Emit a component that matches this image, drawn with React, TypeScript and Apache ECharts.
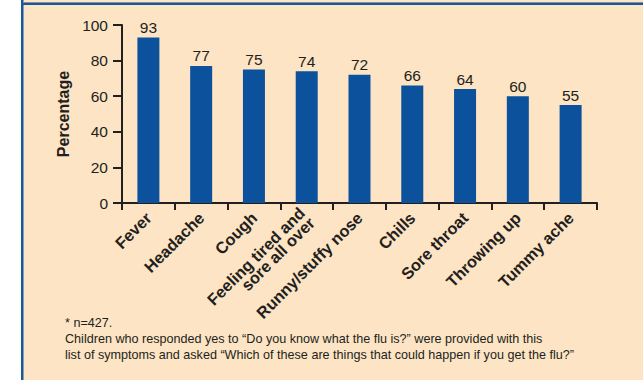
import React, { useEffect, useRef } from "react";
import * as echarts from "echarts";

const categories = [
  "Fever",
  "Headache",
  "Cough",
  "Feeling tired and\nsore all over",
  "Runny/stuffy nose",
  "Chills",
  "Sore throat",
  "Throwing up",
  "Tummy ache",
];
const percentages = [93, 77, 75, 74, 72, 66, 64, 60, 55];
const yTicks = { min: 0, max: 100, interval: 20 };
const yAxisTitle = "Percentage";
const footnotes = [
  "* n=427.",
  "Children who responded yes to \u201cDo you know what the flu is?\u201d were provided with this",
  "list of symptoms and asked \u201cWhich of these are things that could happen if you get the flu?\u201d",
];

const FONT = "'Liberation Sans', Arial, Helvetica, sans-serif";
const INK = "#231f20";
const BAR = "#0b519b";
const BORDER = "#1a589e";
const BG = "#fce4c4";

export default function App() {
  const ref = useRef<HTMLDivElement>(null);
  useEffect(() => {
    if (!ref.current) return;
    const chart = echarts.init(ref.current, undefined, { renderer: "svg" });
    const footY = [323.3, 339.3, 354.7];
    chart.setOption({
      animation: false,
      backgroundColor: BG,
      textStyle: { fontFamily: FONT },
      grid: { left: 122, right: 46, top: 25, bottom: 177 },
      xAxis: {
        type: "category",
        data: categories,
        boundaryGap: true,
        axisLine: { show: true, lineStyle: { color: INK, width: 2 } },
        axisTick: { show: true, length: 7, alignWithLabel: false, lineStyle: { color: INK, width: 2 } },
        axisLabel: {
          interval: 0,
          rotate: 45,
          margin: 12,
          color: INK,
          fontFamily: FONT,
          fontWeight: "bold",
          fontSize: 16.3,
          lineHeight: 14,
        },
      },
      yAxis: {
        type: "value",
        min: yTicks.min,
        max: yTicks.max,
        interval: yTicks.interval,
        name: yAxisTitle,
        nameLocation: "middle",
        nameRotate: 90,
        nameGap: 47,
        nameTextStyle: { color: INK, fontFamily: FONT, fontWeight: "bold", fontSize: 16 },
        axisLine: { show: true, lineStyle: { color: INK, width: 2 } },
        axisTick: { show: true, length: 9, lineStyle: { color: INK, width: 2 } },
        axisLabel: { color: INK, fontFamily: FONT, fontSize: 15.5, margin: 14 },
        splitLine: { show: false },
      },
      series: [
        {
          type: "bar",
          data: percentages,
          barWidth: 22,
          itemStyle: { color: BAR },
          label: {
            show: true,
            position: "top",
            distance: 2,
            color: INK,
            fontFamily: FONT,
            fontSize: 15.5,
          },
        },
      ],
      graphic: [
        { type: "rect", shape: { x: 0, y: 0, width: 21, height: 380 }, style: { fill: "#ffffff" }, silent: true },
        { type: "rect", shape: { x: 21, y: 0, width: 2.5, height: 380 }, style: { fill: BORDER }, silent: true },
        { type: "rect", shape: { x: 23, y: 2, width: 620, height: 1 }, style: { fill: "#8a8f99" }, silent: true },
        { type: "rect", shape: { x: 23, y: 3, width: 620, height: 2 }, style: { fill: BORDER }, silent: true },
        ...footnotes.map((t, i) => ({
          type: "text",
          x: 65,
          y: footY[i],
          silent: true,
          style: {
            text: t,
            fill: INK,
            fontSize: 12.6,
            fontFamily: FONT,
            textAlign: "left",
            textVerticalAlign: "middle",
          },
        })),
      ],
    });
    return () => chart.dispose();
  }, []);
  return (
    <div
      ref={ref}
      style={{ position: "absolute", left: 0, top: 0, width: 643, height: 380 }}
    />
  );
}
